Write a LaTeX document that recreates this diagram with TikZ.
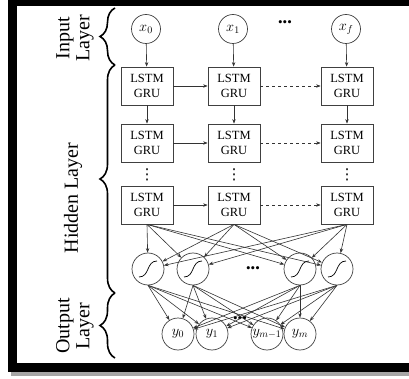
\documentclass[tikz,border=0pt]{standalone}
\usepackage{fontspec}
\setmainfont{Liberation Serif}
\newfontfamily\symfont{DejaVu Sans}
\usepackage{tikz}
\usetikzlibrary{arrows.meta,decorations.pathreplacing,shadows}

\begin{document}
\begin{tikzpicture}[
    x=1pt, y=-1pt,
    >={Stealth[length=4.5pt,width=3.4pt]},
    cell/.style={rectangle, draw=black!75, fill=white, line width=0.8pt, minimum width=52pt, minimum height=38pt, inner sep=0pt, align=center, font=\fontsize{12.5}{14.5}\selectfont, drop shadow={shadow xshift=1.2pt, shadow yshift=-1.2pt, opacity=0.35}},
    invar/.style={circle, draw=black!75, fill=white, line width=0.7pt, minimum size=29pt, inner sep=0pt, font=\fontsize{14}{16}\selectfont},
    act/.style={circle, draw=black!75, fill=white, line width=0.7pt, minimum size=32pt, inner sep=0pt},
    outvar/.style={circle, draw=black!75, fill=white, line width=0.7pt, minimum size=32pt, inner sep=0pt, font=\fontsize{14}{16}\selectfont},
    conn/.style={->, draw=black!80, line width=0.6pt},
    dots/.style={font=\fontsize{13}{13}\selectfont, inner sep=0pt},
    vdotsmark/.style={font=\symfont\fontsize{15}{15}\selectfont, inner sep=0pt},
    layerlabel/.style={rotate=90, align=center, font=\fontsize{20}{20}\selectfont},
    layerbrace/.style={decorate, decoration={brace, amplitude=15pt}, line width=1.6pt}
]
\useasboundingbox (0,0) rectangle (409,379);

% Frame
\fill[black!35] (11,372) rectangle (409,376);
\fill[black] (8,0) rectangle (409,372);
\fill[white] (17,6) rectangle (409,363);

% Input layer
\node[invar] (in1) at (146,29) {$x_0$};
\node[invar] (in2) at (233,29) {$x_1$};
\node[invar] (in3) at (346,29) {$x_f$};
\node[dots] (indots) at (285,24) {•••};

% Hidden layer: recurrent cells
\node[cell] (c11) at (147,86) {LSTM\\GRU};
\node[cell] (c12) at (234,86) {LSTM\\GRU};
\node[cell] (c13) at (347,86) {LSTM\\GRU};
\node[cell] (c21) at (147,143) {LSTM\\GRU};
\node[cell] (c22) at (234,143) {LSTM\\GRU};
\node[cell] (c23) at (347,143) {LSTM\\GRU};
\node[cell] (c31) at (147,205) {LSTM\\GRU};
\node[cell] (c32) at (234,205) {LSTM\\GRU};
\node[cell] (c33) at (347,205) {LSTM\\GRU};
\node[vdotsmark] (v1) at (147,175) {⋮};
\node[vdotsmark] (v2) at (234,175) {⋮};
\node[vdotsmark] (v3) at (347,175) {⋮};

% Hidden layer: activations
\node[act] (s1) at (148,269) {};
\node[act] (s2) at (193,269) {};
\node[act] (s3) at (300,269) {};
\node[act] (s4) at (337,269) {};
\node[dots] (sdots) at (253,270) {•••};
\foreach \i in {1,...,4}
    \draw[line width=0.7pt] ([shift={(-9,8)}]s\i.center) .. controls ([shift={(2,8)}]s\i.center) and ([shift={(-2,-8)}]s\i.center) .. ([shift={(9,-8)}]s\i.center);

% Output layer
\node[outvar] (o1) at (178,334) {$y_0$};
\node[outvar] (o2) at (212,334) {$y_1$};
\node[outvar] (o3) at (267,334) {$y_{m-1}$};
\node[outvar] (o4) at (300,334) {$y_m$};
\node[dots] (odots) at (240,320) {•••};

% Connections
\draw[conn] (in1) -- (c11);
\draw[conn] (in2) -- (c12);
\draw[conn] (in3) -- (c13);
\draw[conn] (c11) -- (c21);
\draw[conn] (c12) -- (c22);
\draw[conn] (c13) -- (c23);
\draw[conn] (c11) -- (c12);
\draw[conn, dashed] (c12) -- (c13);
\draw[conn] (c21) -- (c22);
\draw[conn, dashed] (c22) -- (c23);
\draw[conn] (c31) -- (c32);
\draw[conn, dashed] (c32) -- (c33);
\foreach \c in {1,2,3}
    \foreach \i in {1,...,4}
        \draw[conn] (c3\c.south) -- (s\i);
\foreach \i in {1,...,4}
    \foreach \j in {1,...,4}
        \draw[conn] (s\i.south) -- (o\j);

% Layer labels
\node[layerlabel] (linput) at (75,38) {Input\\Layer};
\node[layerlabel] (lhidden) at (73,198) {Hidden Layer};
\node[layerlabel] (loutput) at (75,326) {Output\\Layer};
\draw[layerbrace] (115,65) -- (115,8);
\draw[layerbrace] (115,293) -- (115,65);
\draw[layerbrace] (115,358) -- (115,293);

\end{tikzpicture}
\end{document}
